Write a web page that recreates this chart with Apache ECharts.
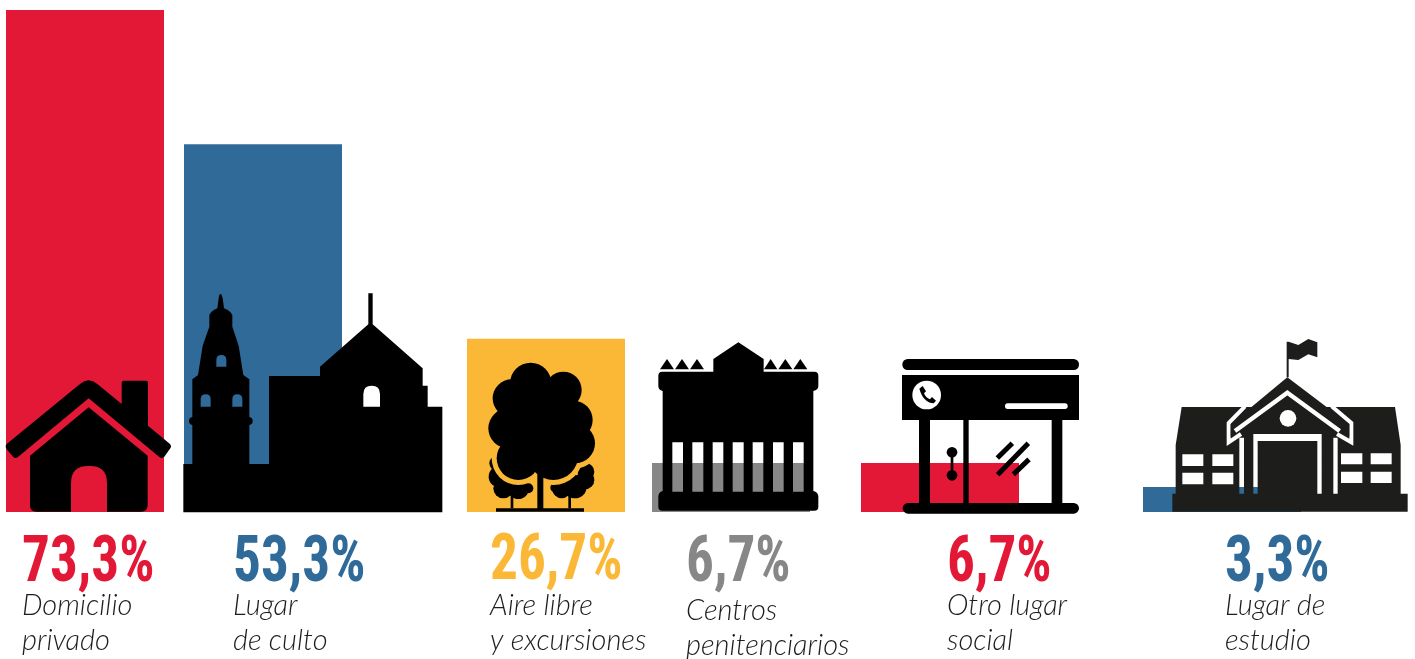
<!DOCTYPE html>
<html><head><meta charset="utf-8">
<style>html,body{margin:0;padding:0;background:#fff}#c{width:1415px;height:659px}</style>
<script src="https://cdn.jsdelivr.net/npm/echarts@6/dist/echarts.min.js"></script>
</head><body><div id="c"></div>
<script>
// ---- data ----
const categories = ['Domicilio\nprivado','Lugar\nde culto','Aire libre\ny excursiones','Centros\npenitenciarios','Otro lugar\nsocial','Lugar de\nestudio'];
const valueLabels = ['73,3%','53,3%','26,7%','6,7%','6,7%','3,3%'];
// bar heights as drawn in the picture (the artwork is not exactly to scale with the printed values)
const barHeights = [73.3,53.7,25.3,7.15,7.15,3.65];
const colors = ['#E31837','#2F6A99','#FBB836','#878787','#E31837','#2F6A99'];

// ---- layout ----
const barLeft = [6,184,467,652,861,1143];
const barW = 158, plotTop = 10, plotH = 502;
const textX = [22,233,490,686,947,1225];
const numMid = [564.5,564.5,562.5,564.5,564.5,564.5];
const catMid = [[606,641],[606,641],[606,641],[611,646],[606,641],[606,641]];

const g = echarts.graphic;
const arch = (a,b,t,y)=>{const m=(a+b)/2,r=(b-a)/2;return `M${a} ${y}L${a} ${t+r}Q${a} ${t} ${m} ${t}Q${b} ${t} ${b} ${t+r}L${b} ${y}Z`;};
const hole = (a,b,t,y)=>`M${a} ${y}L${a} ${t}L${b} ${t}L${b} ${y}Z`;
function reg(name,d){ g.registerShape(name,g.extendPath(d)); }

reg('houseRoof','M20 492L240 312Q266 290 292 312L365 372L365 308Q365 302 371 302L438 302Q444 302 444 308L444 437L510 492Q516 499 510 506L493 530Q486 538 478 531L266 355L54 531Q46 538 39 530L20 508Q14 499 20 492Z');
reg('houseBody','M266 382L443 527L443 675Q443 695 423 695L321 695L321 610Q321 558 270 558L264 558Q213 558 213 610L213 695L110 695Q90 695 90 675L90 527Z');
reg('church','M10 537L10 682L787 682L787 365L743 365L743 302L728 302L728 250L578 118L578 25L565 25L565 118L420 245L420 273L267 273L267 537L208 537L208 420Q218 418 218 408Q218 398 208 396L208 283L190 270L176 182L157 125L157 90Q150 76 132 70L128 40Q125 27 122 27Q117 27 116 40L112 70Q95 76 88 90L88 125L68 182L54 270L37 283L37 396Q27 398 27 408Q27 418 37 420L37 537Z'
  +arch(109,139,210,245)+arch(62,92,328,365)+arch(157,187,328,365)+arch(550,600,302,365));
reg('prison','M52 110Q40 110 40 122L40 153Q40 165 53 168L53 468Q40 472 40 485L40 515Q40 527 52 527L508 527Q520 527 520 515L520 485Q520 472 505 468L505 168Q520 165 520 153L520 122Q520 110 508 110L356 110L356 72L280 22L205 72L205 110Z'
  +[[82,114],[142,175],[203,235],[263,296],[323,355],[384,416],[444,476]].map(s=>hole(s[0],s[1],322,470)).join(''));
reg('phone','M193 116L203 108L213 124L207 130Q212 143 225 148L231 141L243 152L236 160Q205 158 193 116Z');
reg('school','M112 476L112 530L818 530L818 476L797 476L797 330L780 216L140 216L122 330L122 476Z'
  +hole(142,205,358,393)+hole(232,295,358,393)+hole(142,205,413,448)+hole(232,295,413,448)
  +hole(618,682,355,388)+hole(707,770,355,388)+hole(618,682,410,444)+hole(707,770,410,444)
  +hole(313,327,308,476)+hole(355,368,297,476)+hole(547,560,297,476)+hole(595,608,308,476)+hole(368,547,297,318));
reg('flag','M455 127L455 20L461 20L490 30L520 12L547 22L547 67L520 58L490 75L461 72L461 127Z');

const Z = 50;
const K='#000', W='#fff', Y='#FBB836', S='#1D1D1B';
const el = (type,shape,fill,extra)=>Object.assign({type,shape,z:Z,silent:true,style:{fill}},extra||{});
const group = (x,y,children)=>({type:'group',x,y,scaleX:1/3,scaleY:1/3,silent:true,children});
const circ = (c,d,fill)=>({type:'circle',z:Z,silent:true,shape:{cx:c[0],cy:c[1],r:c[2]+(d||0)},style:{fill}});
const line = (points,w,stroke)=>({type:'polyline',z:Z,silent:true,shape:{points},style:{fill:'none',stroke,lineWidth:w,lineJoin:'miter'}});

const bigTree = [[212,145,62],[310,165,55],[155,190,57],[340,255,58],[145,280,60],[345,325,60],[175,370,65],[280,360,75],[240,280,120]];
const smallTrees = [[110,385,22],[118,425,32],[130,460,30],[175,460,32],[205,460,15],
  [378,410,25],[375,435,28],[345,455,35],[305,462,28],[285,458,14]];

const icons = [
  group(0,280,[el('houseRoof',{},K),el('houseBody',{},K)]),
  group(180,285,[el('church',{},K)]),
  group(460,335,[].concat(
    smallTrees.map(c=>circ(c,0,K)),
    bigTree.map(c=>circ(c,15,Y)),
    bigTree.map(c=>circ(c,0,K)),
    [el('rect',{x:232,y:400,width:18,height:125},K),el('rect',{x:152,y:480,width:8,height:40},K),
     el('rect',{x:325,y:480,width:8,height:40},K),el('rect',{x:108,y:520,width:264,height:10},K)])),
  group(645,335,[el('prison',{},K)].concat(
    [[45,87],[90,132],[135,177],[357,397],[400,442],[445,487]].map(s=>
      el('polygon',{points:[[s[0],103],[(s[0]+s[1])/2,72],[s[1],103]]},K)))),
  group(855,350,[
    el('rect',{x:142,y:27,width:530,height:33,r:16},K),
    el('rect',{x:141,y:75,width:531,height:135},K),
    el('rect',{x:192,y:205,width:33,height:260},K),
    el('rect',{x:325,y:205,width:16,height:260},K),
    el('rect',{x:590,y:205,width:32,height:260},K),
    el('rect',{x:143,y:459,width:529,height:32,r:16},K),
    circ([215,135,43],0,W),
    el('phone',{},K),
    el('rect',{x:450,y:160,width:188,height:17,r:8},W),
    circ([291,307,16],0,K),circ([291,376,16],0,K),
    el('rect',{x:287,y:307,width:8,height:69},K),
    line([[428,374],[520,280]],15,K),
    line([[427,324],[472,280]],15,K),
    line([[475,373],[522,328]],15,K)]),
  group(1135,335,[
    el('school',{},S),
    line([[330,214],[281,264],[281,322],[318,297]],12,W),
    line([[590,214],[649,264],[649,322],[606,297]],12,W),
    el('polygon',{points:[[457,127],[643,268],[643,305],[612,284],[303,284],[287,305],[287,268]]},S),
    line([[300,288],[457,173],[614,288]],13,W),
    el('flag',{},S),
    circ([459,250,25],0,W)])
];

const texts = [];
valueLabels.forEach((t,i)=>{
  texts.push({type:'text',x:textX[i],y:numMid[i],z:Z,silent:true,scaleX:0.85,
    style:{text:t,fill:colors[i],font:'bold 65px "Liberation Sans Narrow","Roboto Condensed",Roboto,sans-serif',align:'left',verticalAlign:'middle'}});
  categories[i].split('\n').forEach((s,j)=>{
    texts.push({type:'text',x:textX[i],y:catMid[i][j],z:Z,silent:true,
      style:{text:s,fill:'#1D1D1B',font:'italic 300 29px Lato,sans-serif',align:'left',verticalAlign:'middle'}});
  });
});

const chart = echarts.init(document.getElementById('c'),null,{renderer:'canvas'});
const grid=[],xAxis=[],yAxis=[],series=[];
categories.forEach((c,i)=>{
  grid.push({left:barLeft[i],top:plotTop,width:barW,height:plotH,containLabel:false});
  xAxis.push({type:'category',gridIndex:i,data:[c.replace('\n',' ')],show:false});
  yAxis.push({type:'value',gridIndex:i,min:0,max:barHeights[0],show:false});
  series.push({type:'bar',xAxisIndex:i,yAxisIndex:i,data:[barHeights[i]],barWidth:'100%',z:1,
    itemStyle:{color:colors[i]},silent:true,animation:false});
});
chart.setOption({animation:false,backgroundColor:'#fff',grid,xAxis,yAxis,series,
  graphic:{elements:icons.concat(texts)}});
</script></body></html>
